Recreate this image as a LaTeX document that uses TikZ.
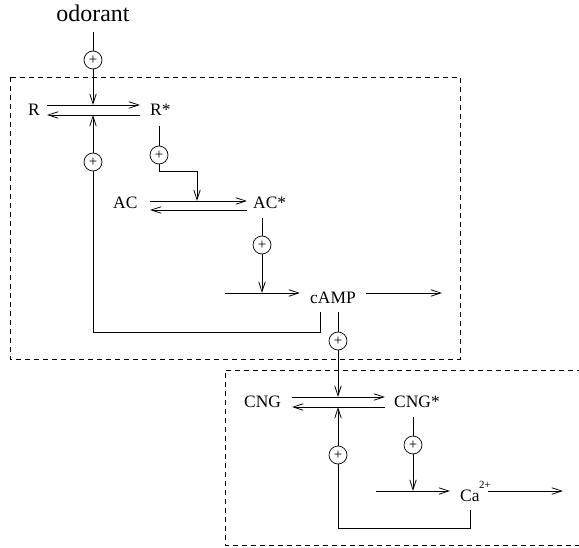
\documentclass[tikz,border=0pt]{standalone}
\usepackage{fontspec}
\setmainfont{Liberation Serif}
\usetikzlibrary{arrows.meta}
\begin{document}
\begin{tikzpicture}[x=1bp,y=-1bp,
  lbl/.style={inner sep=0pt,font=\fontsize{17.5}{20}\selectfont},
  plus/.style={circle,draw,line width=0.7bp,minimum size=18bp,inner sep=0pt,font=\fontsize{15}{16}\selectfont},
  arr/.style={line width=0.75bp,-{Straight Barb[length=10bp,width=6.5bp,line width=0.75bp]}},
  ln/.style={line width=0.75bp},
  dbox/.style={line width=0.7bp,dash pattern=on 5bp off 4bp}]
\useasboundingbox (0,0) rectangle (579,548);
% boxes
\draw[dbox] (10,77) rectangle (460,359);
\draw[dbox] (582,370) -- (225,370) -- (225,545) -- (582,545);
% labels
\node[lbl,anchor=base,font=\fontsize{24}{26}\selectfont] (odor) at (93,22) {odorant};
\node[lbl,anchor=base west] (R) at (28,116) {R};
\node[lbl,anchor=base west] (Rs) at (150,116) {R*};
\node[lbl,anchor=base west] (AC) at (113,209) {AC};
\node[lbl,anchor=base west] (ACs) at (253,209) {AC*};
\node[lbl,anchor=base west] (cAMP) at (310,303) {cAMP};
\node[lbl,anchor=base west] (CNG) at (244,407) {CNG};
\node[lbl,anchor=base west] (CNGs) at (394,407) {CNG*};
\node[lbl,anchor=base west] (Ca) at (460,501) {Ca};
\node[inner sep=0pt,anchor=base west,font=\fontsize{11}{12}\selectfont] (Cae) at (479,488) {2+};
% coordinates
\coordinate (oTop) at (93,32);
\coordinate (rJoinT) at (93,105);
\coordinate (rJoinB) at (93,115);
\coordinate (rfL) at (47,105); \coordinate (rfR) at (140,105);
\coordinate (rbL) at (47,115); \coordinate (rbR) at (140,115);
\coordinate (fb1a) at (320,312); \coordinate (fb1b) at (320,332); \coordinate (fb1c) at (93,332);
\coordinate (rsA) at (159,126); \coordinate (rsB) at (159,171); \coordinate (rsC) at (197,171); \coordinate (acJoin) at (197,201);
\coordinate (afL) at (150,201); \coordinate (afR) at (247,201);
\coordinate (abL) at (150,210); \coordinate (abR) at (247,210);
\coordinate (acsA) at (262,218); \coordinate (campJoin) at (262,293);
\coordinate (cinL) at (225,293); \coordinate (cinR) at (300,293);
\coordinate (coutL) at (366,293); \coordinate (coutR) at (442,293);
\coordinate (cdA) at (338,312); \coordinate (cngJoinT) at (338,397); \coordinate (cngJoinB) at (338,407);
\coordinate (nfL) at (292,397); \coordinate (nfR) at (385,397);
\coordinate (nbL) at (292,407); \coordinate (nbR) at (385,407);
\coordinate (fb2a) at (470,510); \coordinate (fb2b) at (470,528); \coordinate (fb2c) at (338,528);
\coordinate (nsA) at (413,417); \coordinate (caJoin) at (413,491);
\coordinate (kinL) at (376,491); \coordinate (kinR) at (450,491);
\coordinate (koutL) at (488,491); \coordinate (koutR) at (563,491);
% plus circles
\node[plus] (p1) at (93,60) {+};
\node[plus] (p2) at (93,162) {+};
\node[plus] (p3) at (159,155) {+};
\node[plus] (p4) at (262,245) {+};
\node[plus] (p5) at (338,341) {+};
\node[plus] (p6) at (338,455) {+};
\node[plus] (p7) at (413,445) {+};
% R <-> R*
\draw[arr] (rfL) -- (rfR);
\draw[arr] (rbR) -- (rbL);
\draw[arr] (oTop) -- (p1) -- (rJoinT);
\draw[ln] (fb1a) -- (fb1b) -- (fb1c) -- (p2);
\draw[arr] (p2) -- (rJoinB);
% R* -> AC
\draw[ln] (rsA) -- (p3);
\draw[arr] (p3) -- (rsB) -- (rsC) -- (acJoin);
\draw[arr] (afL) -- (afR);
\draw[arr] (abR) -- (abL);
% AC* -> cAMP
\draw[ln] (acsA) -- (p4);
\draw[arr] (p4) -- (campJoin);
\draw[arr] (cinL) -- (cinR);
\draw[arr] (coutL) -- (coutR);
% cAMP -> CNG
\draw[ln] (cdA) -- (p5);
\draw[arr] (p5) -- (cngJoinT);
\draw[arr] (nfL) -- (nfR);
\draw[arr] (nbR) -- (nbL);
\draw[ln] (fb2a) -- (fb2b) -- (fb2c) -- (p6);
\draw[arr] (p6) -- (cngJoinB);
% CNG* -> Ca
\draw[ln] (nsA) -- (p7);
\draw[arr] (p7) -- (caJoin);
\draw[arr] (kinL) -- (kinR);
\draw[arr] (koutL) -- (koutR);
\end{tikzpicture}
\end{document}
